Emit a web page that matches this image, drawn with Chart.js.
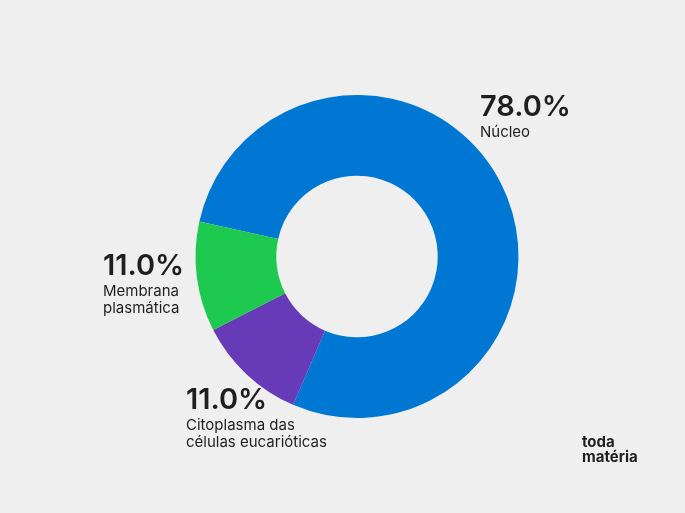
<!DOCTYPE html>
<html><head><meta charset="utf-8">
<script src="https://cdn.jsdelivr.net/npm/chart.js@4"></script>
<style>html,body{margin:0;padding:0;background:#efefef;}#w{width:685px;height:513px;position:relative}</style>
</head><body><div id="w"><canvas id="c" width="685" height="513"></canvas></div>
<script>
const categories = ["Núcleo", "Citoplasma das células eucarióticas", "Membrana plasmática"];
const values = [78.0, 11.0, 11.0];
const colors = ["#0077d2", "#673ab7", "#1dc94f"];
const labelLines = [["Núcleo"], ["Citoplasma das", "células eucarióticas"], ["Membrana", "plasmática"]];
const labelPos = [[480, 107], [186, 400], [103, 266]];

const textPlugin = {
  id: 'txt',
  afterDraw(chart) {
    const ctx = chart.ctx;
    ctx.save();
    ctx.fillStyle = '#1f1f1f';
    ctx.textBaseline = 'middle';
    ctx.textAlign = 'left';
    values.forEach((v, i) => {
      const [x, y] = labelPos[i];
      ctx.font = '600 29px Inter';
      ctx.fillText(v.toFixed(1) + '%', x, y);
      ctx.font = '15px Inter';
      labelLines[i].forEach((l, j) => ctx.fillText(l, x, y + 25 + j * 17));
    });
    ctx.font = 'bold 15px Inter';
    ctx.fillText('toda', 582, 442);
    ctx.fillText('matéria', 582, 457);
    ctx.restore();
  }
};

new Chart(document.getElementById('c'), {
  type: 'doughnut',
  data: { labels: categories, datasets: [{ data: values, backgroundColor: colors, borderWidth: 0 }] },
  options: {
    responsive: false, animation: false, rotation: -77.5, cutout: '50%',
    layout: { padding: { left: 195, right: 166, top: 95, bottom: 95 } },
    plugins: { legend: { display: false }, tooltip: { enabled: false } }
  },
  plugins: [textPlugin]
});
</script></body></html>
